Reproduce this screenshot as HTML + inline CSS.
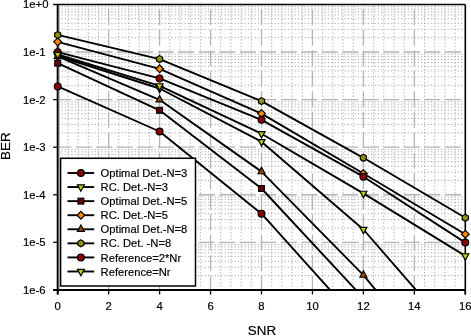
<!DOCTYPE html>
<html><head><meta charset="utf-8"><title>BER vs SNR</title>
<style>html,body{margin:0;padding:0;background:#fff;}body{width:471px;height:336px;overflow:hidden;}svg{display:block;filter:blur(0.3px);}</style>
</head><body>
<svg width="471" height="336" viewBox="0 0 471 336">
<style>
.mnh{stroke:#a8a8a8;stroke-width:1;stroke-dasharray:1.2 2.13;stroke-dashoffset:0.6;}
.mnv{stroke:#a8a8a8;stroke-width:1;stroke-dasharray:1.2 2.13;stroke-dashoffset:2.98;}
.mjh{stroke:#b4b4b4;stroke-width:1.3;stroke-dasharray:16 4.5;stroke-dashoffset:3.35;}
.mjv{stroke:#b4b4b4;stroke-width:1.3;stroke-dasharray:16 4.5;stroke-dashoffset:16.75;}
text{font-family:"Liberation Sans",sans-serif;fill:#000;stroke:#000;stroke-width:0.18px;}
.tk{font-size:11.3px;}
.lg{font-size:11.2px;}
.ttl{font-size:13.4px;}
</style>
<rect width="471" height="336" fill="#fff"/>
<g><line x1="67.89" y1="5.45" x2="67.89" y2="288.9" class="mnv"/><line x1="78.08" y1="5.45" x2="78.08" y2="288.9" class="mnv"/><line x1="88.27" y1="5.45" x2="88.27" y2="288.9" class="mnv"/><line x1="98.46" y1="5.45" x2="98.46" y2="288.9" class="mnv"/><line x1="118.84" y1="5.45" x2="118.84" y2="288.9" class="mnv"/><line x1="129.03" y1="5.45" x2="129.03" y2="288.9" class="mnv"/><line x1="139.22" y1="5.45" x2="139.22" y2="288.9" class="mnv"/><line x1="149.41" y1="5.45" x2="149.41" y2="288.9" class="mnv"/><line x1="169.79" y1="5.45" x2="169.79" y2="288.9" class="mnv"/><line x1="179.98" y1="5.45" x2="179.98" y2="288.9" class="mnv"/><line x1="190.17" y1="5.45" x2="190.17" y2="288.9" class="mnv"/><line x1="200.36" y1="5.45" x2="200.36" y2="288.9" class="mnv"/><line x1="220.74" y1="5.45" x2="220.74" y2="288.9" class="mnv"/><line x1="230.93" y1="5.45" x2="230.93" y2="288.9" class="mnv"/><line x1="241.12" y1="5.45" x2="241.12" y2="288.9" class="mnv"/><line x1="251.31" y1="5.45" x2="251.31" y2="288.9" class="mnv"/><line x1="271.69" y1="5.45" x2="271.69" y2="288.9" class="mnv"/><line x1="281.88" y1="5.45" x2="281.88" y2="288.9" class="mnv"/><line x1="292.07" y1="5.45" x2="292.07" y2="288.9" class="mnv"/><line x1="302.26" y1="5.45" x2="302.26" y2="288.9" class="mnv"/><line x1="322.64" y1="5.45" x2="322.64" y2="288.9" class="mnv"/><line x1="332.83" y1="5.45" x2="332.83" y2="288.9" class="mnv"/><line x1="343.02" y1="5.45" x2="343.02" y2="288.9" class="mnv"/><line x1="353.21" y1="5.45" x2="353.21" y2="288.9" class="mnv"/><line x1="373.59" y1="5.45" x2="373.59" y2="288.9" class="mnv"/><line x1="383.78" y1="5.45" x2="383.78" y2="288.9" class="mnv"/><line x1="393.97" y1="5.45" x2="393.97" y2="288.9" class="mnv"/><line x1="404.16" y1="5.45" x2="404.16" y2="288.9" class="mnv"/><line x1="424.54" y1="5.45" x2="424.54" y2="288.9" class="mnv"/><line x1="434.73" y1="5.45" x2="434.73" y2="288.9" class="mnv"/><line x1="444.92" y1="5.45" x2="444.92" y2="288.9" class="mnv"/><line x1="455.11" y1="5.45" x2="455.11" y2="288.9" class="mnv"/><line x1="58.7" y1="37.7" x2="464.3" y2="37.7" class="mnh"/><line x1="58.7" y1="29.33" x2="464.3" y2="29.33" class="mnh"/><line x1="58.7" y1="23.38" x2="464.3" y2="23.38" class="mnh"/><line x1="58.7" y1="18.77" x2="464.3" y2="18.77" class="mnh"/><line x1="58.7" y1="15.0" x2="464.3" y2="15.0" class="mnh"/><line x1="58.7" y1="11.82" x2="464.3" y2="11.82" class="mnh"/><line x1="58.7" y1="9.06" x2="464.3" y2="9.06" class="mnh"/><line x1="58.7" y1="6.63" x2="464.3" y2="6.63" class="mnh"/><line x1="58.7" y1="85.28" x2="464.3" y2="85.28" class="mnh"/><line x1="58.7" y1="76.9" x2="464.3" y2="76.9" class="mnh"/><line x1="58.7" y1="70.96" x2="464.3" y2="70.96" class="mnh"/><line x1="58.7" y1="66.35" x2="464.3" y2="66.35" class="mnh"/><line x1="58.7" y1="62.58" x2="464.3" y2="62.58" class="mnh"/><line x1="58.7" y1="59.39" x2="464.3" y2="59.39" class="mnh"/><line x1="58.7" y1="56.64" x2="464.3" y2="56.64" class="mnh"/><line x1="58.7" y1="54.2" x2="464.3" y2="54.2" class="mnh"/><line x1="58.7" y1="132.85" x2="464.3" y2="132.85" class="mnh"/><line x1="58.7" y1="124.48" x2="464.3" y2="124.48" class="mnh"/><line x1="58.7" y1="118.53" x2="464.3" y2="118.53" class="mnh"/><line x1="58.7" y1="113.92" x2="464.3" y2="113.92" class="mnh"/><line x1="58.7" y1="110.15" x2="464.3" y2="110.15" class="mnh"/><line x1="58.7" y1="106.97" x2="464.3" y2="106.97" class="mnh"/><line x1="58.7" y1="104.21" x2="464.3" y2="104.21" class="mnh"/><line x1="58.7" y1="101.78" x2="464.3" y2="101.78" class="mnh"/><line x1="58.7" y1="180.43" x2="464.3" y2="180.43" class="mnh"/><line x1="58.7" y1="172.05" x2="464.3" y2="172.05" class="mnh"/><line x1="58.7" y1="166.11" x2="464.3" y2="166.11" class="mnh"/><line x1="58.7" y1="161.5" x2="464.3" y2="161.5" class="mnh"/><line x1="58.7" y1="157.73" x2="464.3" y2="157.73" class="mnh"/><line x1="58.7" y1="154.54" x2="464.3" y2="154.54" class="mnh"/><line x1="58.7" y1="151.79" x2="464.3" y2="151.79" class="mnh"/><line x1="58.7" y1="149.35" x2="464.3" y2="149.35" class="mnh"/><line x1="58.7" y1="228.0" x2="464.3" y2="228.0" class="mnh"/><line x1="58.7" y1="219.63" x2="464.3" y2="219.63" class="mnh"/><line x1="58.7" y1="213.68" x2="464.3" y2="213.68" class="mnh"/><line x1="58.7" y1="209.07" x2="464.3" y2="209.07" class="mnh"/><line x1="58.7" y1="205.3" x2="464.3" y2="205.3" class="mnh"/><line x1="58.7" y1="202.12" x2="464.3" y2="202.12" class="mnh"/><line x1="58.7" y1="199.36" x2="464.3" y2="199.36" class="mnh"/><line x1="58.7" y1="196.93" x2="464.3" y2="196.93" class="mnh"/><line x1="58.7" y1="275.58" x2="464.3" y2="275.58" class="mnh"/><line x1="58.7" y1="267.2" x2="464.3" y2="267.2" class="mnh"/><line x1="58.7" y1="261.26" x2="464.3" y2="261.26" class="mnh"/><line x1="58.7" y1="256.65" x2="464.3" y2="256.65" class="mnh"/><line x1="58.7" y1="252.88" x2="464.3" y2="252.88" class="mnh"/><line x1="58.7" y1="249.69" x2="464.3" y2="249.69" class="mnh"/><line x1="58.7" y1="246.94" x2="464.3" y2="246.94" class="mnh"/><line x1="58.7" y1="244.5" x2="464.3" y2="244.5" class="mnh"/><line x1="108.65" y1="5.45" x2="108.65" y2="288.9" class="mjv"/><line x1="159.6" y1="5.45" x2="159.6" y2="288.9" class="mjv"/><line x1="210.55" y1="5.45" x2="210.55" y2="288.9" class="mjv"/><line x1="261.5" y1="5.45" x2="261.5" y2="288.9" class="mjv"/><line x1="312.45" y1="5.45" x2="312.45" y2="288.9" class="mjv"/><line x1="363.4" y1="5.45" x2="363.4" y2="288.9" class="mjv"/><line x1="414.35" y1="5.45" x2="414.35" y2="288.9" class="mjv"/><line x1="58.7" y1="52.02" x2="464.3" y2="52.02" class="mjh"/><line x1="58.7" y1="99.6" x2="464.3" y2="99.6" class="mjh"/><line x1="58.7" y1="147.17" x2="464.3" y2="147.17" class="mjh"/><line x1="58.7" y1="194.75" x2="464.3" y2="194.75" class="mjh"/><line x1="58.7" y1="242.32" x2="464.3" y2="242.32" class="mjh"/></g>
<g><line x1="53.1" y1="4.5" x2="465.3" y2="4.5" stroke="#000" stroke-width="1.3"/><line x1="465.3" y1="4.45" x2="465.3" y2="294.5" stroke="#000" stroke-width="1.6"/><line x1="57.7" y1="4.45" x2="57.7" y2="294.5" stroke="#000" stroke-width="2"/><line x1="53.1" y1="289.9" x2="465.3" y2="289.9" stroke="#000" stroke-width="2"/><line x1="59.3" y1="5" x2="59.3" y2="288.8" stroke="#aaa" stroke-width="0.9"/><text x="23.0" y="8.45" class="tk">1e+0</text><line x1="53.1" y1="52.02" x2="57.7" y2="52.02" stroke="#000" stroke-width="1.25"/><text x="23.0" y="56.02" class="tk">1e-1</text><line x1="53.1" y1="99.60" x2="57.7" y2="99.60" stroke="#000" stroke-width="1.25"/><text x="23.0" y="103.60" class="tk">1e-2</text><line x1="53.1" y1="147.17" x2="57.7" y2="147.17" stroke="#000" stroke-width="1.25"/><text x="23.0" y="151.17" class="tk">1e-3</text><line x1="53.1" y1="194.75" x2="57.7" y2="194.75" stroke="#000" stroke-width="1.25"/><text x="23.0" y="198.75" class="tk">1e-4</text><line x1="53.1" y1="242.32" x2="57.7" y2="242.32" stroke="#000" stroke-width="1.25"/><text x="23.0" y="246.32" class="tk">1e-5</text><line x1="53.1" y1="289.90" x2="57.7" y2="289.90" stroke="#000" stroke-width="1.25"/><text x="23.0" y="293.90" class="tk">1e-6</text><line x1="57.70" y1="289.9" x2="57.70" y2="294.5" stroke="#000" stroke-width="1.3"/><text x="57.70" y="310.0" class="tk" text-anchor="middle">0</text><line x1="108.65" y1="289.9" x2="108.65" y2="294.5" stroke="#000" stroke-width="1.3"/><text x="108.65" y="310.0" class="tk" text-anchor="middle">2</text><line x1="159.60" y1="289.9" x2="159.60" y2="294.5" stroke="#000" stroke-width="1.3"/><text x="159.60" y="310.0" class="tk" text-anchor="middle">4</text><line x1="210.55" y1="289.9" x2="210.55" y2="294.5" stroke="#000" stroke-width="1.3"/><text x="210.55" y="310.0" class="tk" text-anchor="middle">6</text><line x1="261.50" y1="289.9" x2="261.50" y2="294.5" stroke="#000" stroke-width="1.3"/><text x="261.50" y="310.0" class="tk" text-anchor="middle">8</text><line x1="312.45" y1="289.9" x2="312.45" y2="294.5" stroke="#000" stroke-width="1.3"/><text x="312.45" y="310.0" class="tk" text-anchor="middle">10</text><line x1="363.40" y1="289.9" x2="363.40" y2="294.5" stroke="#000" stroke-width="1.3"/><text x="363.40" y="310.0" class="tk" text-anchor="middle">12</text><line x1="414.35" y1="289.9" x2="414.35" y2="294.5" stroke="#000" stroke-width="1.3"/><text x="414.35" y="310.0" class="tk" text-anchor="middle">14</text><line x1="465.30" y1="289.9" x2="465.30" y2="294.5" stroke="#000" stroke-width="1.3"/><text x="465.30" y="310.0" class="tk" text-anchor="middle">16</text><text x="262" y="335.4" class="ttl" text-anchor="middle">SNR</text><text transform="translate(10.2 146.2) rotate(-90)" class="ttl" text-anchor="middle">BER</text></g>
<g><path d="M57.70 86.40L159.60 131.50L261.50 213.70L330.00 289.90" fill="none" stroke="#000" stroke-width="1.9" stroke-linejoin="round"/><path d="M57.70 56.00L159.60 88.50L261.50 141.70L363.40 229.50L415.90 289.90" fill="none" stroke="#000" stroke-width="1.9" stroke-linejoin="round"/><path d="M57.70 63.10L159.60 110.30L261.50 188.50L355.80 289.90" fill="none" stroke="#000" stroke-width="1.9" stroke-linejoin="round"/><path d="M57.70 41.80L159.60 68.80L261.50 113.60L363.40 173.50L465.30 234.20" fill="none" stroke="#000" stroke-width="1.9" stroke-linejoin="round"/><path d="M57.70 56.30L159.60 99.80L261.50 171.60L363.40 275.10L375.60 289.90" fill="none" stroke="#000" stroke-width="1.9" stroke-linejoin="round"/><path d="M57.70 34.90L159.60 59.10L261.50 101.10L363.40 157.80L465.30 217.80" fill="none" stroke="#000" stroke-width="1.9" stroke-linejoin="round"/><path d="M57.70 52.20L159.60 78.40L261.50 119.80L363.40 176.70L465.30 242.60" fill="none" stroke="#000" stroke-width="1.9" stroke-linejoin="round"/><path d="M57.70 54.50L159.60 85.90L261.50 133.70L363.40 193.40L465.30 255.90" fill="none" stroke="#000" stroke-width="1.9" stroke-linejoin="round"/><circle cx="57.70" cy="86.40" r="3.4" fill="#8c0000" stroke="#000" stroke-width="1.2"/><circle cx="159.60" cy="131.50" r="3.4" fill="#8c0000" stroke="#000" stroke-width="1.2"/><circle cx="261.50" cy="213.70" r="3.4" fill="#8c0000" stroke="#000" stroke-width="1.2"/><path d="M54.20 53.87L61.20 53.87L57.70 60.27Z" fill="#c4cc00" stroke="#000" stroke-width="1.2" stroke-linejoin="miter"/><path d="M156.10 86.37L163.10 86.37L159.60 92.77Z" fill="#c4cc00" stroke="#000" stroke-width="1.2" stroke-linejoin="miter"/><path d="M258.00 139.57L265.00 139.57L261.50 145.97Z" fill="#c4cc00" stroke="#000" stroke-width="1.2" stroke-linejoin="miter"/><path d="M359.90 227.37L366.90 227.37L363.40 233.77Z" fill="#c4cc00" stroke="#000" stroke-width="1.2" stroke-linejoin="miter"/><rect x="54.80" y="60.20" width="5.8" height="5.8" fill="#6a0000" stroke="#000" stroke-width="1.2"/><rect x="156.70" y="107.40" width="5.8" height="5.8" fill="#6a0000" stroke="#000" stroke-width="1.2"/><rect x="258.60" y="185.60" width="5.8" height="5.8" fill="#6a0000" stroke="#000" stroke-width="1.2"/><path d="M57.70 37.90L61.60 41.80L57.70 45.70L53.80 41.80Z" fill="#ff8800" stroke="#000" stroke-width="1.2"/><path d="M159.60 64.90L163.50 68.80L159.60 72.70L155.70 68.80Z" fill="#ff8800" stroke="#000" stroke-width="1.2"/><path d="M261.50 109.70L265.40 113.60L261.50 117.50L257.60 113.60Z" fill="#ff8800" stroke="#000" stroke-width="1.2"/><path d="M363.40 169.60L367.30 173.50L363.40 177.40L359.50 173.50Z" fill="#ff8800" stroke="#000" stroke-width="1.2"/><path d="M465.30 230.30L469.20 234.20L465.30 238.10L461.40 234.20Z" fill="#ff8800" stroke="#000" stroke-width="1.2"/><path d="M54.20 58.43L61.20 58.43L57.70 52.03Z" fill="#a04800" stroke="#000" stroke-width="1.2" stroke-linejoin="miter"/><path d="M156.10 101.93L163.10 101.93L159.60 95.53Z" fill="#a04800" stroke="#000" stroke-width="1.2" stroke-linejoin="miter"/><path d="M258.00 173.73L265.00 173.73L261.50 167.33Z" fill="#a04800" stroke="#000" stroke-width="1.2" stroke-linejoin="miter"/><path d="M359.90 277.23L366.90 277.23L363.40 270.83Z" fill="#a04800" stroke="#000" stroke-width="1.2" stroke-linejoin="miter"/><path d="M57.70 31.40L54.67 33.15L54.67 36.65L57.70 38.40L60.73 36.65L60.73 33.15Z" fill="#909010" stroke="#000" stroke-width="1.2"/><path d="M159.60 55.60L156.57 57.35L156.57 60.85L159.60 62.60L162.63 60.85L162.63 57.35Z" fill="#909010" stroke="#000" stroke-width="1.2"/><path d="M261.50 97.60L258.47 99.35L258.47 102.85L261.50 104.60L264.53 102.85L264.53 99.35Z" fill="#909010" stroke="#000" stroke-width="1.2"/><path d="M363.40 154.30L360.37 156.05L360.37 159.55L363.40 161.30L366.43 159.55L366.43 156.05Z" fill="#909010" stroke="#000" stroke-width="1.2"/><path d="M465.30 214.30L462.27 216.05L462.27 219.55L465.30 221.30L468.33 219.55L468.33 216.05Z" fill="#909010" stroke="#000" stroke-width="1.2"/><circle cx="57.70" cy="52.20" r="3.4" fill="#8c0000" stroke="#000" stroke-width="1.2"/><circle cx="159.60" cy="78.40" r="3.4" fill="#8c0000" stroke="#000" stroke-width="1.2"/><circle cx="261.50" cy="119.80" r="3.4" fill="#8c0000" stroke="#000" stroke-width="1.2"/><circle cx="363.40" cy="176.70" r="3.4" fill="#8c0000" stroke="#000" stroke-width="1.2"/><circle cx="465.30" cy="242.60" r="3.4" fill="#8c0000" stroke="#000" stroke-width="1.2"/><path d="M54.20 52.37L61.20 52.37L57.70 58.77Z" fill="#c4cc00" stroke="#000" stroke-width="1.2" stroke-linejoin="miter"/><path d="M156.10 83.77L163.10 83.77L159.60 90.17Z" fill="#c4cc00" stroke="#000" stroke-width="1.2" stroke-linejoin="miter"/><path d="M258.00 131.57L265.00 131.57L261.50 137.97Z" fill="#c4cc00" stroke="#000" stroke-width="1.2" stroke-linejoin="miter"/><path d="M359.90 191.27L366.90 191.27L363.40 197.67Z" fill="#c4cc00" stroke="#000" stroke-width="1.2" stroke-linejoin="miter"/><path d="M461.80 253.77L468.80 253.77L465.30 260.17Z" fill="#c4cc00" stroke="#000" stroke-width="1.2" stroke-linejoin="miter"/></g>
<g><rect x="60.6" y="158.3" width="134.9" height="127.69999999999999" fill="#fff" stroke="#000" stroke-width="1.5"/><line x1="67.5" y1="173.00" x2="94.2" y2="173.00" stroke="#000" stroke-width="1.9"/><circle cx="80.90" cy="173.00" r="3.4" fill="#8c0000" stroke="#000" stroke-width="1.2"/><text x="100.6" y="177.10" class="lg">Optimal Det.-N=3</text><line x1="67.5" y1="187.07" x2="94.2" y2="187.07" stroke="#000" stroke-width="1.9"/><path d="M77.40 184.94L84.40 184.94L80.90 191.34Z" fill="#c4cc00" stroke="#000" stroke-width="1.2" stroke-linejoin="miter"/><text x="100.6" y="191.17" class="lg">RC. Det.-N=3</text><line x1="67.5" y1="201.14" x2="94.2" y2="201.14" stroke="#000" stroke-width="1.9"/><rect x="78.00" y="198.24" width="5.8" height="5.8" fill="#6a0000" stroke="#000" stroke-width="1.2"/><text x="100.6" y="205.24" class="lg">Optimal Det.-N=5</text><line x1="67.5" y1="215.21" x2="94.2" y2="215.21" stroke="#000" stroke-width="1.9"/><path d="M80.90 211.31L84.80 215.21L80.90 219.11L77.00 215.21Z" fill="#ff8800" stroke="#000" stroke-width="1.2"/><text x="100.6" y="219.31" class="lg">RC. Det.-N=5</text><line x1="67.5" y1="229.28" x2="94.2" y2="229.28" stroke="#000" stroke-width="1.9"/><path d="M77.40 231.41L84.40 231.41L80.90 225.01Z" fill="#a04800" stroke="#000" stroke-width="1.2" stroke-linejoin="miter"/><text x="100.6" y="233.38" class="lg">Optimal Det.-N=8</text><line x1="67.5" y1="243.35" x2="94.2" y2="243.35" stroke="#000" stroke-width="1.9"/><path d="M80.90 239.85L77.87 241.60L77.87 245.10L80.90 246.85L83.93 245.10L83.93 241.60Z" fill="#909010" stroke="#000" stroke-width="1.2"/><text x="100.6" y="247.45" class="lg">RC. Det. -N=8</text><line x1="67.5" y1="257.42" x2="94.2" y2="257.42" stroke="#000" stroke-width="1.9"/><circle cx="80.90" cy="257.42" r="3.4" fill="#8c0000" stroke="#000" stroke-width="1.2"/><text x="100.6" y="261.52" class="lg">Reference=2*Nr</text><line x1="67.5" y1="271.49" x2="94.2" y2="271.49" stroke="#000" stroke-width="1.9"/><path d="M77.40 269.36L84.40 269.36L80.90 275.76Z" fill="#c4cc00" stroke="#000" stroke-width="1.2" stroke-linejoin="miter"/><text x="100.6" y="275.59" class="lg">Reference=Nr</text></g>
</svg>
</body></html>
